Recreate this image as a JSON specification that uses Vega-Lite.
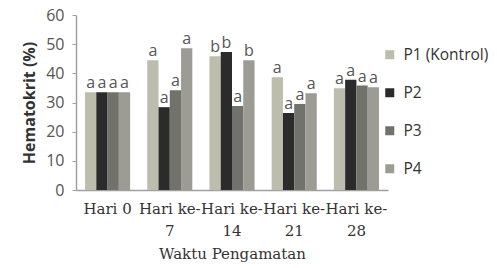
{
  "$schema": "https://vega.github.io/schema/vega-lite/v6.json",
  "autosize": "none",
  "width": 312,
  "height": 175,
  "padding": {"left": 76, "top": 15, "right": 109, "bottom": 78},
  "background": "white",
  "config": {"view": {"stroke": null}},
  "data": {
    "values": [
      {"day": "Hari 0", "group": "P1 (Kontrol)", "value": 33.5, "letter": "a"},
      {"day": "Hari 0", "group": "P2", "value": 33.5, "letter": "a"},
      {"day": "Hari 0", "group": "P3", "value": 33.5, "letter": "a"},
      {"day": "Hari 0", "group": "P4", "value": 33.5, "letter": "a"},
      {"day": "Hari ke-|7", "group": "P1 (Kontrol)", "value": 44.5, "letter": "a"},
      {"day": "Hari ke-|7", "group": "P2", "value": 28.4, "letter": "a"},
      {"day": "Hari ke-|7", "group": "P3", "value": 34.2, "letter": "a"},
      {"day": "Hari ke-|7", "group": "P4", "value": 48.6, "letter": "a"},
      {"day": "Hari ke-|14", "group": "P1 (Kontrol)", "value": 45.9, "letter": "b"},
      {"day": "Hari ke-|14", "group": "P2", "value": 47.3, "letter": "b"},
      {"day": "Hari ke-|14", "group": "P3", "value": 28.8, "letter": "a"},
      {"day": "Hari ke-|14", "group": "P4", "value": 44.5, "letter": "b"},
      {"day": "Hari ke-|21", "group": "P1 (Kontrol)", "value": 38.7, "letter": "a"},
      {"day": "Hari ke-|21", "group": "P2", "value": 26.4, "letter": "a"},
      {"day": "Hari ke-|21", "group": "P3", "value": 29.5, "letter": "a"},
      {"day": "Hari ke-|21", "group": "P4", "value": 33.2, "letter": "a"},
      {"day": "Hari ke-|28", "group": "P1 (Kontrol)", "value": 34.9, "letter": "a"},
      {"day": "Hari ke-|28", "group": "P2", "value": 37.8, "letter": "a"},
      {"day": "Hari ke-|28", "group": "P3", "value": 35.8, "letter": "a"},
      {"day": "Hari ke-|28", "group": "P4", "value": 35.2, "letter": "a"}
    ]
  },
  "encoding": {
    "x": {
      "field": "day", "type": "nominal", "sort": null,
      "scale": {"paddingInner": 0.275, "paddingOuter": 0.145},
      "axis": {
        "title": "Waktu Pengamatan",
        "labelExpr": "split(datum.label, '|')",
        "labelAngle": 0,
        "labelFont": "DejaVu Serif",
        "labelFontSize": 15,
        "labelLineHeight": 22,
        "labelColor": "#333333",
        "labelPadding": 11,
        "ticks": false,
        "domainColor": "#a0a0a0",
        "domainWidth": 1.5,
        "titleFont": "DejaVu Serif",
        "titleFontSize": 15,
        "titleFontWeight": "normal",
        "titleColor": "#333333",
        "titlePadding": 8
      }
    },
    "xOffset": {"field": "group", "type": "nominal", "scale": {"paddingInner": 0}},
    "y": {
      "field": "value", "type": "quantitative",
      "scale": {"domain": [0, 60], "nice": false},
      "axis": {
        "title": "Hematokrit (%)",
        "values": [0, 10, 20, 30, 40, 50, 60],
        "grid": false,
        "labelFont": "Open Sans",
        "labelFontSize": 16,
        "labelColor": "#555555",
        "labelPadding": 8,
        "tickSize": 4,
        "tickColor": "#a0a0a0",
        "domainColor": "#a0a0a0",
        "domainWidth": 1.5,
        "titleFont": "Open Sans",
        "titleFontSize": 16,
        "titleFontWeight": "bold",
        "titleColor": "#333333",
        "titlePadding": 8
      }
    }
  },
  "layer": [
    {
      "mark": {"type": "bar"},
      "encoding": {
        "color": {
          "field": "group", "type": "nominal",
          "scale": {"range": ["#bdbdad", "#2b2b2b", "#72726c", "#9c9c94"]},
          "legend": {
            "title": null,
            "orient": "none",
            "legendX": 306,
            "legendY": 32,
            "symbolType": "square",
            "symbolSize": 81,
            "symbolStrokeWidth": 0,
            "labelFont": "Open Sans",
            "labelFontSize": 15.5,
            "labelColor": "#333333",
            "labelOffset": 6,
            "labelLimit": 120,
            "rowPadding": 21
          }
        }
      }
    },
    {
      "mark": {"type": "text", "baseline": "bottom", "dy": -1, "font": "Open Sans", "fontSize": 16, "color": "#555555"},
      "encoding": {"text": {"field": "letter"}}
    }
  ]
}
